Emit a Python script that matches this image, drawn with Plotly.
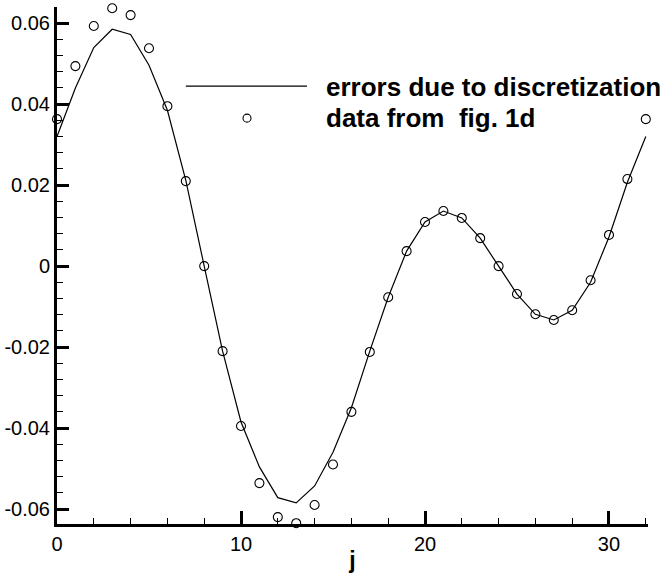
import plotly.graph_objects as go

# grid index j
j = list(range(33))

# errors due to discretization (solid line)
err_line = [0.0320, 0.0440, 0.0540, 0.0585, 0.0572, 0.0496, 0.0385, 0.0212, 0.0000,
            -0.0210, -0.0385, -0.0496, -0.0572, -0.0585, -0.0543, -0.0460, -0.0350,
            -0.0210, -0.0077, 0.0037, 0.0109, 0.0136, 0.0119, 0.0069, 0.0000,
            -0.0069, -0.0119, -0.0133, -0.0109, -0.0040, 0.0072, 0.0207, 0.0320]

# data from fig. 1d (open circles)
fig1d = [0.0363, 0.0494, 0.0593, 0.0637, 0.0620, 0.0538, 0.0395, 0.0210, 0.0000,
         -0.0210, -0.0395, -0.0536, -0.0620, -0.0635, -0.0590, -0.0490, -0.0360,
         -0.0212, -0.0077, 0.0037, 0.0109, 0.0136, 0.0119, 0.0069, 0.0000,
         -0.0069, -0.0119, -0.0133, -0.0109, -0.0035, 0.0077, 0.0215, 0.0363]

xtick_vals = [0, 10, 20, 30]
ytick_vals = [-0.06, -0.04, -0.02, 0, 0.02, 0.04, 0.06]
ytick_text = ["-0.06", "-0.04", "-0.02", "0", "0.02", "0.04", "0.06"]

FONT = "Liberation Sans, Arial, Helvetica, sans-serif"

fig = go.Figure()

fig.add_trace(go.Scatter(
    x=j, y=err_line, mode="lines", name="errors due to discretization",
    line=dict(color="black", width=1.2), cliponaxis=False,
))

fig.add_trace(go.Scatter(
    x=j, y=fig1d, mode="markers", name="data from  fig. 1d",
    marker=dict(symbol="circle-open", size=9, color="black", line=dict(width=1.1)),
    cliponaxis=False,
))

# hand-made legend
fig.add_shape(type="line", xref="paper", yref="paper",
              x0=0.218, x1=0.423, y0=0.847, y1=0.847,
              line=dict(color="black", width=1.2))
fig.add_shape(type="circle", xref="paper", yref="paper",
              xsizemode="pixel", ysizemode="pixel",
              xanchor=0.3215, yanchor=0.785,
              x0=-4, x1=4, y0=-4, y1=4,
              line=dict(color="black", width=1.1))
fig.add_annotation(text="<b>errors due to discretization</b>", xref="paper", yref="paper",
                   x=0.451, y=0.845, xanchor="left", yanchor="middle", showarrow=False,
                   font=dict(family=FONT, size=26, color="black"))
fig.add_annotation(text="<b>data from  fig. 1d</b>", xref="paper", yref="paper",
                   x=0.451, y=0.785, xanchor="left", yanchor="middle", showarrow=False,
                   font=dict(family=FONT, size=26, color="black"))

fig.update_layout(
    width=665, height=573,
    margin=dict(l=57, r=17, t=7, b=49),
    plot_bgcolor="white", paper_bgcolor="white",
    showlegend=False,
    font=dict(family=FONT, size=20, color="black"),
)

fig.update_xaxes(
    range=[0, 32.12], tickvals=xtick_vals, automargin=False,
    showgrid=False, zeroline=False,
    showline=True, linecolor="black", linewidth=3,
    ticks="inside", ticklen=13, tickwidth=3, tickcolor="black",
    minor=dict(dtick=2, ticks="inside", ticklen=6, tickwidth=1, tickcolor="black", showgrid=False),
    title=dict(text="<b>j</b>", font=dict(size=23), standoff=0),
)
fig.update_yaxes(
    range=[-0.0637, 0.064], tickvals=ytick_vals, ticktext=ytick_text, automargin=False,
    showgrid=False, zeroline=False,
    showline=True, linecolor="black", linewidth=3,
    ticks="inside", ticklen=12, tickwidth=3, tickcolor="black",
    minor=dict(dtick=0.004, ticks="inside", ticklen=6, tickwidth=1, tickcolor="black", showgrid=False),
)

# drop the browser's default 8px body margin so the figure sits at the page corner
fig.write_html("out.html", config={"displayModeBar": False},
               post_script="document.body.style.margin='0px';")
